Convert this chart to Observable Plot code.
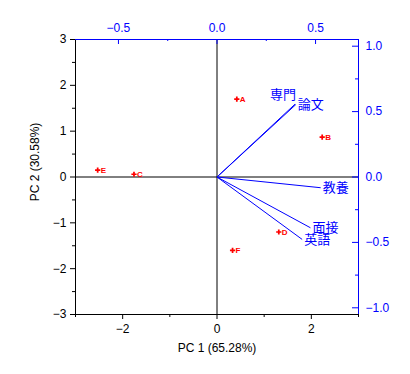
<!DOCTYPE html>
<html>
<head>
<meta charset="utf-8">
<script src="https://cdn.jsdelivr.net/npm/d3@7"></script>
<script src="https://cdn.jsdelivr.net/npm/@observablehq/plot@0.6"></script>
<style>
  html, body { margin: 0; padding: 0; background: #fff; }
</style>
</head>
<body>
<div id="chart"></div>
<script>
// Scores (observations)
const obsNames = ["A", "B", "C", "D", "E", "F"];
const obsPC1 = [0.42, 2.23, -1.76, 1.31, -2.53, 0.33];
const obsPC2 = [1.70, 0.87, 0.06, -1.20, 0.15, -1.60];

// Loadings (variables)
const varNames = ["専門", "論文", "教養", "面接", "英語"];
const varPC1 = [0.396, 0.400, 0.526, 0.474, 0.432];
const varPC2 = [0.557, 0.554, -0.082, -0.388, -0.477];

// Axis ticks
const xMajor = [-2, 0, 2];
const xMinor = [-3, -1, 1, 3];
const yMajor = [-3, -2, -1, 0, 1, 2, 3];
const yMinor = [-2.5, -1.5, -0.5, 0.5, 1.5, 2.5];
const topMajor = [-0.5, 0, 0.5];
const topMinor = [-0.25, 0.25];
const rightMajor = [-1, -0.5, 0, 0.5, 1];
const rightMinor = [-0.75, -0.25, 0.25, 0.75];

const xLabel = "PC 1 (65.28%)";
const yLabel = "PC 2 (30.58%)";

// secondary-axis scale factors (loading units -> score units)
const kx = 4.179;
const ky = 2.854;

const W = 410, H = 374;
const mL = 75, mR = 52, mT = 39, mB = 60;
const fw = W - mL - mR, fh = H - mT - mB;

const scores = obsNames.map((n, i) => ({name: n, x: obsPC1[i], y: obsPC2[i]}));
const loads = varNames.map((n, i) => ({name: n, x: varPC1[i] * kx, y: varPC2[i] * ky}));
const fmt1 = v => { const s = (Math.round(v * 10) / 10).toFixed(1); return s === "-0.0" ? "0.0" : (s.startsWith("-") ? "\u2212" + s.slice(1) : s); };

const BLUE = "#0000ff", RED = "#ff0000";
const JP = "'Noto Sans CJK JP', sans-serif";

const chart = Plot.plot({
  width: W,
  height: H,
  marginLeft: mL,
  marginRight: mR,
  marginTop: mT,
  marginBottom: mB,
  style: {fontFamily: "'Liberation Sans', Arial, sans-serif", fontSize: "12px", background: "white"},
  x: {domain: [-3, 3]},
  y: {domain: [-3, 3]},
  marks: [
    // zero lines
    Plot.ruleX([0], {stroke: "black"}),
    Plot.ruleY([0], {stroke: "black"}),
    // loading vectors
    Plot.link(loads, {x1: 0, y1: 0, x2: "x", y2: "y", stroke: BLUE, strokeWidth: 1}),
    Plot.text(loads.filter(d => d.name !== "専門"), {x: "x", y: "y", text: "name", textAnchor: "start", dx: 2, fill: BLUE, fontSize: 13, fontFamily: JP}),
    Plot.text(loads.filter(d => d.name === "専門"), {x: "x", y: "y", text: "name", textAnchor: "end", dx: 1, dy: -9, fill: BLUE, fontSize: 13, fontFamily: JP}),
    // scores
    Plot.dot(scores, {x: "x", y: "y", symbol: "cross", r: 2.2, fill: RED, stroke: "none"}),
    Plot.text(scores, {x: "x", y: "y", text: "name", textAnchor: "start", dx: 3, fill: RED, fontSize: 8, fontWeight: "bold"}),
    // frame lines
    Plot.ruleX([-3], {stroke: "black"}),
    Plot.ruleY([-3], {stroke: "black"}),
    Plot.ruleY([3], {stroke: BLUE}),
    Plot.ruleX([3], {stroke: BLUE}),
    // left axis
    Plot.axisY({anchor: "left", ticks: yMajor, tickSize: 5, tickPadding: 4, tickFormat: d => d < 0 ? "\u2212" + (-d) : String(d), label: null}),
    Plot.axisY({anchor: "left", ticks: yMinor, tickSize: 3, tickFormat: () => "", label: null}),
    // bottom axis
    Plot.axisX({anchor: "bottom", ticks: xMajor, tickSize: 5, tickPadding: 5, tickFormat: d => d < 0 ? "\u2212" + (-d) : String(d), label: null}),
    Plot.axisX({anchor: "bottom", ticks: xMinor, tickSize: 3, tickFormat: () => "", label: null}),
    // top axis (loadings PC1)
    Plot.axisX({anchor: "top", ticks: topMajor.map(v => v * kx), tickSize: 0, tickPadding: 8, tickFormat: d => fmt1(d / kx), color: BLUE, label: null}),
    Plot.tickX(topMajor, {x: d => d * kx, insetBottom: fh - 5, stroke: BLUE}),
    Plot.tickX(topMinor, {x: d => d * kx, insetBottom: fh - 2, stroke: BLUE}),
    // right axis (loadings PC2)
    Plot.axisY({anchor: "right", ticks: rightMajor.map(v => v * ky), tickSize: 0, tickPadding: 7, tickFormat: d => fmt1(d / ky), color: BLUE, label: null}),
    Plot.tickY(rightMajor, {y: d => d * ky, insetLeft: fw - 6, stroke: BLUE}),
    Plot.tickY(rightMinor, {y: d => d * ky, insetLeft: fw - 3, stroke: BLUE}),
    // axis titles
    Plot.text([xLabel], {frameAnchor: "bottom", text: d => d, dy: 34, lineAnchor: "middle", fill: "black", fontSize: 12}),
    Plot.text([yLabel], {frameAnchor: "left", text: d => d, textAnchor: "middle", dx: -40, dy: -15, rotate: -90, lineAnchor: "middle", fill: "black", fontSize: 12})
  ]
});

document.getElementById("chart").appendChild(chart);
</script>
</body>
</html>
